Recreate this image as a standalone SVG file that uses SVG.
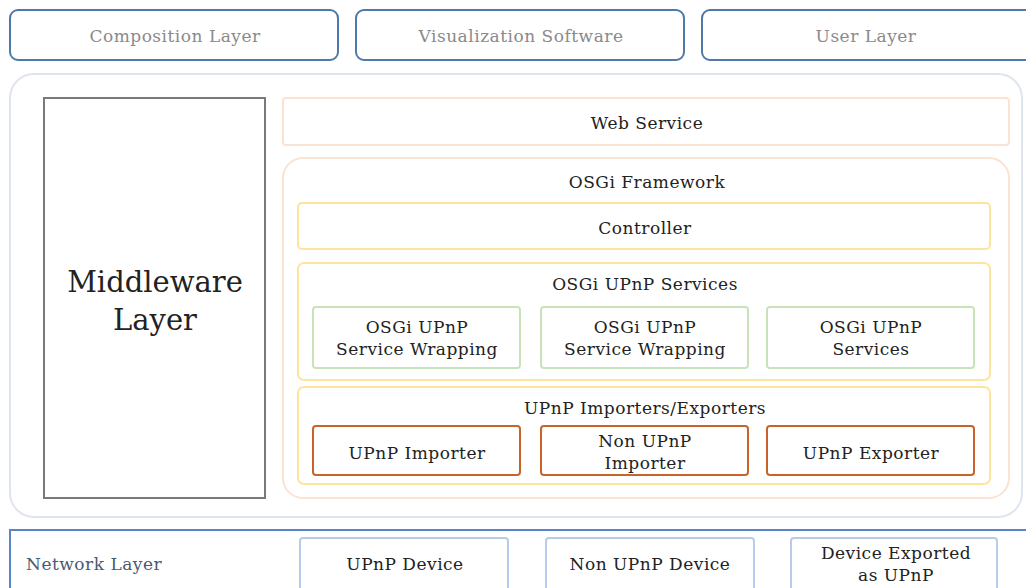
<svg xmlns="http://www.w3.org/2000/svg" width="1026" height="588" viewBox="0 0 1026 588">
  <style>
    text { font-family: "DejaVu Serif", "Liberation Serif", serif; font-size: 17px; letter-spacing: 0.5px; text-anchor: middle; fill: #222; }
    .big { font-size: 29px; letter-spacing: 0; }
    .top { fill: none; stroke: #4f79a8; stroke-width: 2; }
    .toptxt { fill: #8a8a8a; }
    .outer { fill: none; stroke: #dfe5ef; stroke-width: 2; }
    .mid { fill: none; stroke: #7a7a7a; stroke-width: 2; }
    .peach { fill: none; stroke: #fbe3d4; stroke-width: 2; }
    .yellow { fill: none; stroke: #ffe49e; stroke-width: 2; }
    .green { fill: none; stroke: #c9e3b8; stroke-width: 2; }
    .orange { fill: none; stroke: #c8642a; stroke-width: 2; }
    .net { fill: none; stroke: #5b84c6; stroke-width: 2; }
    .dev { fill: none; stroke: #b8cbe9; stroke-width: 2; }
  </style>

  <!-- top row -->
  <g id="composition-layer">
    <rect class="top" x="10" y="10" width="328" height="50" rx="8"/>
    <text class="toptxt" x="175" y="42">Composition Layer</text>
  </g>
  <g id="visualization-software">
    <rect class="top" x="356" y="10" width="328" height="50" rx="8"/>
    <text class="toptxt" x="521" y="42">Visualization Software</text>
  </g>
  <g id="user-layer">
    <rect class="top" x="702" y="10" width="340" height="50" rx="8"/>
    <text class="toptxt" x="866" y="42">User Layer</text>
  </g>

  <!-- middleware container -->
  <g id="middleware">
    <rect class="outer" x="10" y="74" width="1012" height="443" rx="24"/>
    <rect class="mid" x="44" y="98" width="221" height="400"/>
    <text class="big" x="155" y="292">Middleware</text>
    <text class="big" x="155" y="330">Layer</text>
  </g>

  <g id="web-service">
    <rect class="peach" x="283" y="98" width="726" height="47" rx="3"/>
    <text x="647" y="129">Web Service</text>
  </g>

  <g id="osgi-framework">
    <rect class="peach" x="283" y="158" width="726" height="340" rx="20"/>
    <text x="647" y="188">OSGi Framework</text>
  </g>

  <g id="controller">
    <rect class="yellow" x="298" y="203" width="692" height="46" rx="4"/>
    <text x="645" y="234">Controller</text>
  </g>

  <g id="osgi-upnp-services">
    <rect class="yellow" x="298" y="263" width="692" height="117" rx="6"/>
    <text x="645" y="290">OSGi UPnP Services</text>
  </g>
  <g id="wrapping-1">
    <rect class="green" x="313" y="307" width="207" height="61" rx="3"/>
    <text x="417" y="333">OSGi UPnP</text>
    <text x="417" y="355">Service Wrapping</text>
  </g>
  <g id="wrapping-2">
    <rect class="green" x="541" y="307" width="207" height="61" rx="3"/>
    <text x="645" y="333">OSGi UPnP</text>
    <text x="645" y="355">Service Wrapping</text>
  </g>
  <g id="osgi-services">
    <rect class="green" x="767" y="307" width="207" height="61" rx="3"/>
    <text x="871" y="333">OSGi UPnP</text>
    <text x="871" y="355">Services</text>
  </g>

  <g id="importers-exporters">
    <rect class="yellow" x="298" y="387" width="692" height="97" rx="6"/>
    <text x="645" y="414">UPnP Importers/Exporters</text>
  </g>
  <g id="upnp-importer">
    <rect class="orange" x="313" y="426" width="207" height="49" rx="3"/>
    <text x="417" y="459">UPnP Importer</text>
  </g>
  <g id="non-upnp-importer">
    <rect class="orange" x="541" y="426" width="207" height="49" rx="3"/>
    <text x="645" y="447">Non UPnP</text>
    <text x="645" y="469">Importer</text>
  </g>
  <g id="upnp-exporter">
    <rect class="orange" x="767" y="426" width="207" height="49" rx="3"/>
    <text x="871" y="459">UPnP Exporter</text>
  </g>

  <!-- network layer -->
  <g id="network-layer">
    <rect class="net" x="10" y="530" width="1030" height="80"/>
    <text x="26" y="570" style="text-anchor:start;fill:#4a5a70">Network Layer</text>
  </g>
  <g id="upnp-device">
    <rect class="dev" x="300" y="538" width="208" height="70" rx="3"/>
    <text x="405" y="570">UPnP Device</text>
  </g>
  <g id="non-upnp-device">
    <rect class="dev" x="546" y="538" width="208" height="70" rx="3"/>
    <text x="650" y="570">Non UPnP Device</text>
  </g>
  <g id="device-exported">
    <rect class="dev" x="791" y="538" width="206" height="70" rx="3"/>
    <text x="896" y="559">Device Exported</text>
    <text x="896" y="581">as UPnP</text>
  </g>

  <g id="connectors"></g>
</svg>
